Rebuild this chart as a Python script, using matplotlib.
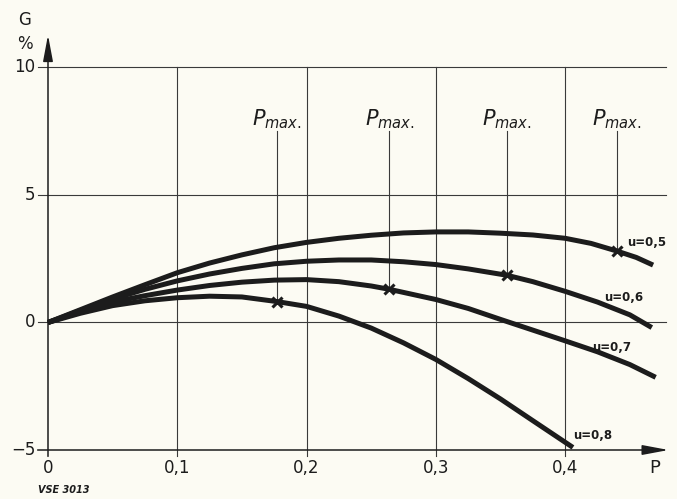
import matplotlib
matplotlib.use("Agg")
import matplotlib.pyplot as plt

# ---- data ----
p_u05 = [0, 0.025, 0.05, 0.075, 0.1, 0.125, 0.15, 0.175, 0.2, 0.225, 0.25, 0.275, 0.3,
         0.325, 0.35, 0.375, 0.4, 0.42, 0.44, 0.455, 0.468]
g_u05 = [0, 0.5, 1.0, 1.48, 1.95, 2.33, 2.65, 2.93, 3.14, 3.3, 3.42, 3.51, 3.55,
         3.55, 3.5, 3.43, 3.3, 3.1, 2.8, 2.55, 2.25]

p_u06 = [0, 0.025, 0.05, 0.075, 0.1, 0.125, 0.15, 0.175, 0.2, 0.225, 0.25, 0.275, 0.3,
         0.325, 0.355, 0.375, 0.4, 0.425, 0.45, 0.467]
g_u06 = [0, 0.47, 0.92, 1.3, 1.63, 1.9, 2.12, 2.3, 2.4, 2.45, 2.45, 2.38, 2.27,
         2.1, 1.85, 1.6, 1.22, 0.8, 0.3, -0.2]

p_u07 = [0, 0.025, 0.05, 0.075, 0.1, 0.125, 0.15, 0.175, 0.2, 0.225, 0.25, 0.264, 0.3,
         0.325, 0.35, 0.375, 0.4, 0.425, 0.45, 0.47]
g_u07 = [0, 0.42, 0.8, 1.05, 1.27, 1.45, 1.58, 1.66, 1.68, 1.6, 1.43, 1.3, 0.9,
         0.55, 0.12, -0.3, -0.72, -1.15, -1.65, -2.15]

p_u08 = [0, 0.025, 0.05, 0.075, 0.1, 0.125, 0.15, 0.177, 0.2, 0.225, 0.25, 0.275, 0.3,
         0.325, 0.35, 0.375, 0.406]
g_u08 = [0, 0.36, 0.66, 0.85, 0.97, 1.03, 1.0, 0.82, 0.63, 0.25, -0.22, -0.8, -1.45,
         -2.2, -3.0, -3.85, -4.9]

series_labels = ["u=0,5", "u=0,6", "u=0,7", "u=0,8"]

pmax_p = [0.177, 0.264, 0.355, 0.44]
pmax_g = [0.82, 1.3, 1.85, 2.8]

x_ticks = [0, 0.1, 0.2, 0.3, 0.4]
x_ticklabels = ["0", "0,1", "0,2", "0,3", "0,4"]
y_ticks = [-5, 0, 5, 10]
y_ticklabels = ["\u22125", "0", "5", "10"]

# ---- figure ----
bg = "#fcfbf3"
ink = "#1c1c1c"
grid = "#3a3a3a"

fig = plt.figure(figsize=(6.77, 4.99), dpi=100, facecolor=bg)
ax = fig.add_axes([48 / 677, 49 / 499, 620.6 / 677, 415 / 499])
ax.set_facecolor(bg)
ax.set_xlim(0, 0.48)
ax.set_ylim(-5, 11.27)
ax.axis("off")

# grid lines
for yv in [0, 5, 10]:
    ax.plot([-0.008, 0.478], [yv, yv], color=grid, lw=0.8, clip_on=False, zorder=1)
for xv in x_ticks[1:]:
    ax.plot([xv, xv], [-5.25, 10], color=grid, lw=0.8, clip_on=False, zorder=1)

# axes with arrows
ax.annotate("", xy=(0, 11.27), xytext=(0, -5.25),
            arrowprops=dict(arrowstyle="-|>,head_length=1.6,head_width=0.3",
                            mutation_scale=10, lw=1.1, color=ink, shrinkA=0, shrinkB=0),
            annotation_clip=False)
ax.annotate("", xy=(0.48, -5), xytext=(-0.008, -5),
            arrowprops=dict(arrowstyle="-|>,head_length=1.6,head_width=0.3",
                            mutation_scale=10, lw=1.1, color=ink, shrinkA=0, shrinkB=0),
            annotation_clip=False)

# curves
curves = [(p_u05, g_u05), (p_u06, g_u06), (p_u07, g_u07), (p_u08, g_u08)]
for p, g in curves:
    ax.plot(p, g, color=ink, lw=3.6, solid_capstyle="butt", solid_joinstyle="round",
            zorder=3, clip_on=False)

# Pmax markers and verticals
for xp, gp in zip(pmax_p, pmax_g):
    ax.plot([xp, xp], [gp, 7.5], color=grid, lw=0.8, zorder=2)
    ax.plot([xp], [gp], marker="x", ms=7, mew=2.2, color=ink, zorder=4)
    ax.text(xp, 7.95, r"$P_{max.}$", ha="center", va="center", fontsize=15,
            color=ink, zorder=5)

# curve labels
lab_pos = [(0.463, 3.14), (0.4455, 0.98), (0.436, -0.98), (0.4215, -4.43)]
for (lx, ly), t in zip(lab_pos, series_labels):
    ax.text(lx, ly, t, ha="center", va="center", fontsize=8.5, fontweight="bold",
            color=ink, clip_on=False, zorder=6)

# tick labels
for xv, t in zip(x_ticks, x_ticklabels):
    ax.text(xv, -5.7, t, ha="center", va="center", fontsize=12, color=ink)
for yv, t in zip(y_ticks, y_ticklabels):
    ax.text(-0.0095, yv, t, ha="right", va="center", fontsize=12, color=ink)

ax.text(0.469, -5.7, "P", ha="center", va="center", fontsize=13, color=ink)
ax.text(-0.018, 11.85, "G", ha="center", va="center", fontsize=12, color=ink, clip_on=False)
ax.text(-0.018, 10.9, "%", ha="center", va="center", fontsize=12, color=ink, clip_on=False)

fig.text(38 / 677, 1 - 490 / 499, "VSE 3013", ha="left", va="center", fontsize=7,
         fontstyle="italic", fontweight="bold", color=ink)

fig.savefig("out.png", dpi=100, facecolor=bg)
